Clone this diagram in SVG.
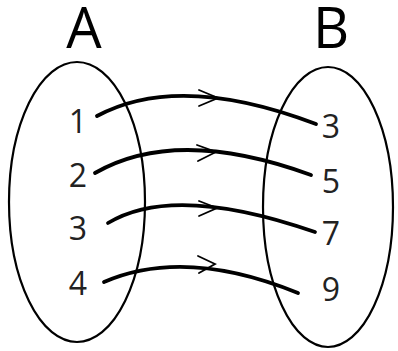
<svg xmlns="http://www.w3.org/2000/svg" width="398" height="351" viewBox="0 0 398 351">
<style>
.set{fill:none;stroke:#000;stroke-width:2.2}
.title{font-family:"Open Sans","DejaVu Sans",sans-serif;font-size:56px;fill:#000;text-anchor:middle}
.num{font-family:"Open Sans","DejaVu Sans",sans-serif;font-size:32px;fill:#222;text-anchor:middle}
.edge{fill:none;stroke:#000;stroke-width:3.8;stroke-linecap:round}
.head{fill:none;stroke:#000;stroke-width:1.8;stroke-linecap:round;stroke-linejoin:miter}
</style>
<rect width="398" height="351" fill="#fff"/>
<g id="setA">
<ellipse class="set" cx="77" cy="202" rx="68" ry="140"/>
<text class="title" x="84" y="48">A</text>
<text class="num" x="78" y="133">1</text>
<text class="num" x="78" y="187">2</text>
<text class="num" x="78" y="240">3</text>
<text class="num" x="78" y="295">4</text>
</g>
<g id="setB">
<ellipse class="set" cx="328" cy="207" rx="65" ry="140"/>
<text class="title" x="331" y="48">B</text>
<text class="num" x="331" y="138">3</text>
<text class="num" x="331" y="193">5</text>
<text class="num" x="331" y="245">7</text>
<text class="num" x="331" y="301">9</text>
</g>
<g id="connectors">
<path class="edge" d="M97,116 Q179,72 316,124"/>
<path class="edge" d="M95,173 Q177,126 311,175"/>
<path class="edge" d="M108,223 Q174,183 315,232"/>
<path class="edge" d="M104,282 Q185,247 298,293"/>
<polyline class="head" points="199,90 218,98 199,106"/>
<polyline class="head" points="197,145 216,152 198,161"/>
<polyline class="head" points="199,201 217,208 199,216"/>
<polyline class="head" points="198,256 215,264 199,273"/>
</g>
</svg>
